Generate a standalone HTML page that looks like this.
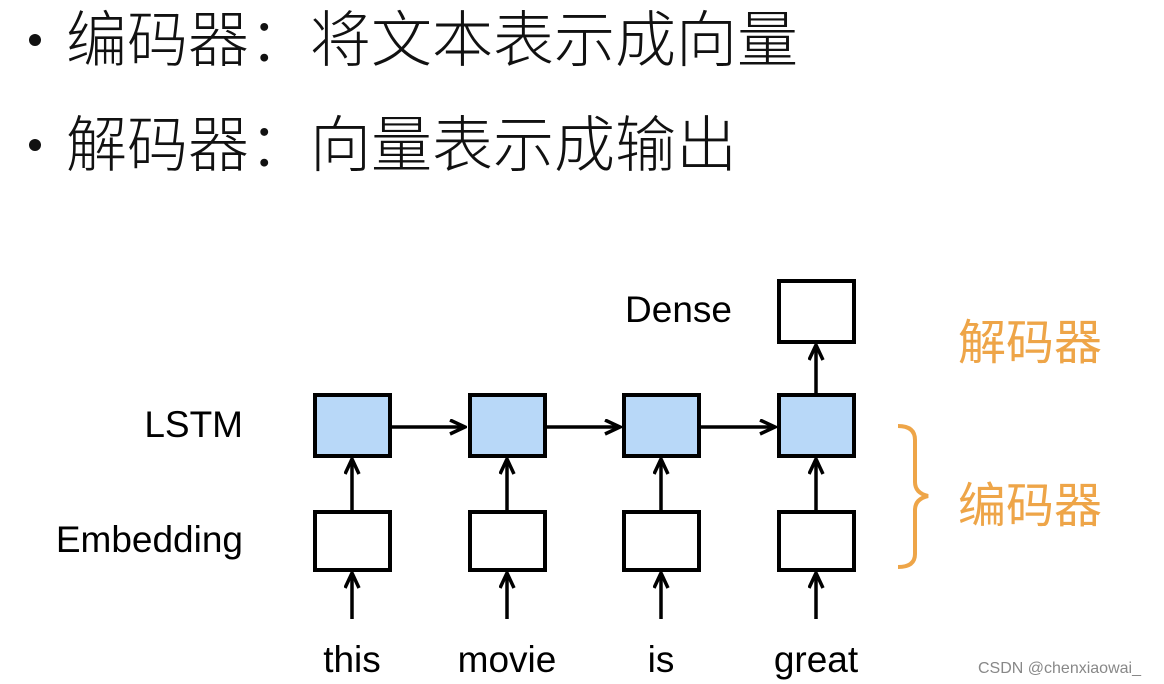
<!DOCTYPE html>
<html><head><meta charset="utf-8"><style>
body{margin:0;width:1164px;height:684px;background:#fff;overflow:hidden;position:relative;font-family:"Liberation Sans","Noto Sans CJK SC",sans-serif}
.t{position:absolute;white-space:nowrap;font-weight:300;color:#111}
.b{position:absolute;width:12px;height:12px;border-radius:50%;background:#111}
</style></head><body>
<div class="b" style="left:29px;top:34px"></div>
<div class="b" style="left:29px;top:139px"></div>
<div class="t" style="left:66px;top:2px;font-size:61px;line-height:76px">编码器：将文本表示成向量</div>
<div class="t" style="left:66px;top:107px;font-size:61px;line-height:76px">解码器：向量表示成输出</div>
<svg width="1164" height="684" style="position:absolute;left:0;top:0" font-family="Liberation Sans, Noto Sans CJK SC, sans-serif">
<defs><marker id="a" markerWidth="18" markerHeight="18" refX="15" refY="8" orient="auto" markerUnits="userSpaceOnUse"><path d="M1,1 L16,8 L1,15" fill="none" stroke="#000" stroke-width="3.5"/></marker></defs>
<g stroke="#000" stroke-width="4">
<rect x="315" y="395" width="75" height="61" fill="#b8d8f8"/>
<rect x="470" y="395" width="75" height="61" fill="#b8d8f8"/>
<rect x="624" y="395" width="75" height="61" fill="#b8d8f8"/>
<rect x="779" y="395" width="75" height="61" fill="#b8d8f8"/>
<rect x="315" y="512" width="75" height="58" fill="#fff"/>
<rect x="470" y="512" width="75" height="58" fill="#fff"/>
<rect x="624" y="512" width="75" height="58" fill="#fff"/>
<rect x="779" y="512" width="75" height="58" fill="#fff"/>
<rect x="779" y="281" width="75" height="61" fill="#fff"/>
</g>
<g stroke="#000" stroke-width="3.5" marker-end="url(#a)">
<line x1="390" y1="427" x2="464" y2="427"/>
<line x1="545" y1="427" x2="619" y2="427"/>
<line x1="699" y1="427" x2="774" y2="427"/>
<line x1="816" y1="395" x2="816" y2="346"/>
<line x1="352" y1="512" x2="352" y2="460"/>
<line x1="507" y1="512" x2="507" y2="460"/>
<line x1="661" y1="512" x2="661" y2="460"/>
<line x1="816" y1="512" x2="816" y2="460"/>
<line x1="352" y1="619" x2="352" y2="574"/>
<line x1="507" y1="619" x2="507" y2="574"/>
<line x1="661" y1="619" x2="661" y2="574"/>
<line x1="816" y1="619" x2="816" y2="574"/>
</g>
<g font-size="37" fill="#000">
<text x="732" y="322" text-anchor="end">Dense</text>
<text x="243" y="437" text-anchor="end">LSTM</text>
<text x="243" y="552" text-anchor="end">Embedding</text>
<text x="352" y="672" text-anchor="middle">this</text>
<text x="507" y="672" text-anchor="middle">movie</text>
<text x="661" y="672" text-anchor="middle">is</text>
<text x="816" y="672" text-anchor="middle">great</text>
</g>
<path d="M898,426 Q915,426 915,440 L915,482 Q915,493 928,496 Q915,499 915,510 L915,554 Q915,567 898,567" fill="none" stroke="#eea548" stroke-width="4"/>
<g font-size="48" fill="#eea548">
<text x="958" y="359">解码器</text>
<text x="958" y="522">编码器</text>
</g>
<text x="978" y="673" font-size="16" fill="#888">CSDN @chenxiaowai_</text>
</svg>
</body></html>
